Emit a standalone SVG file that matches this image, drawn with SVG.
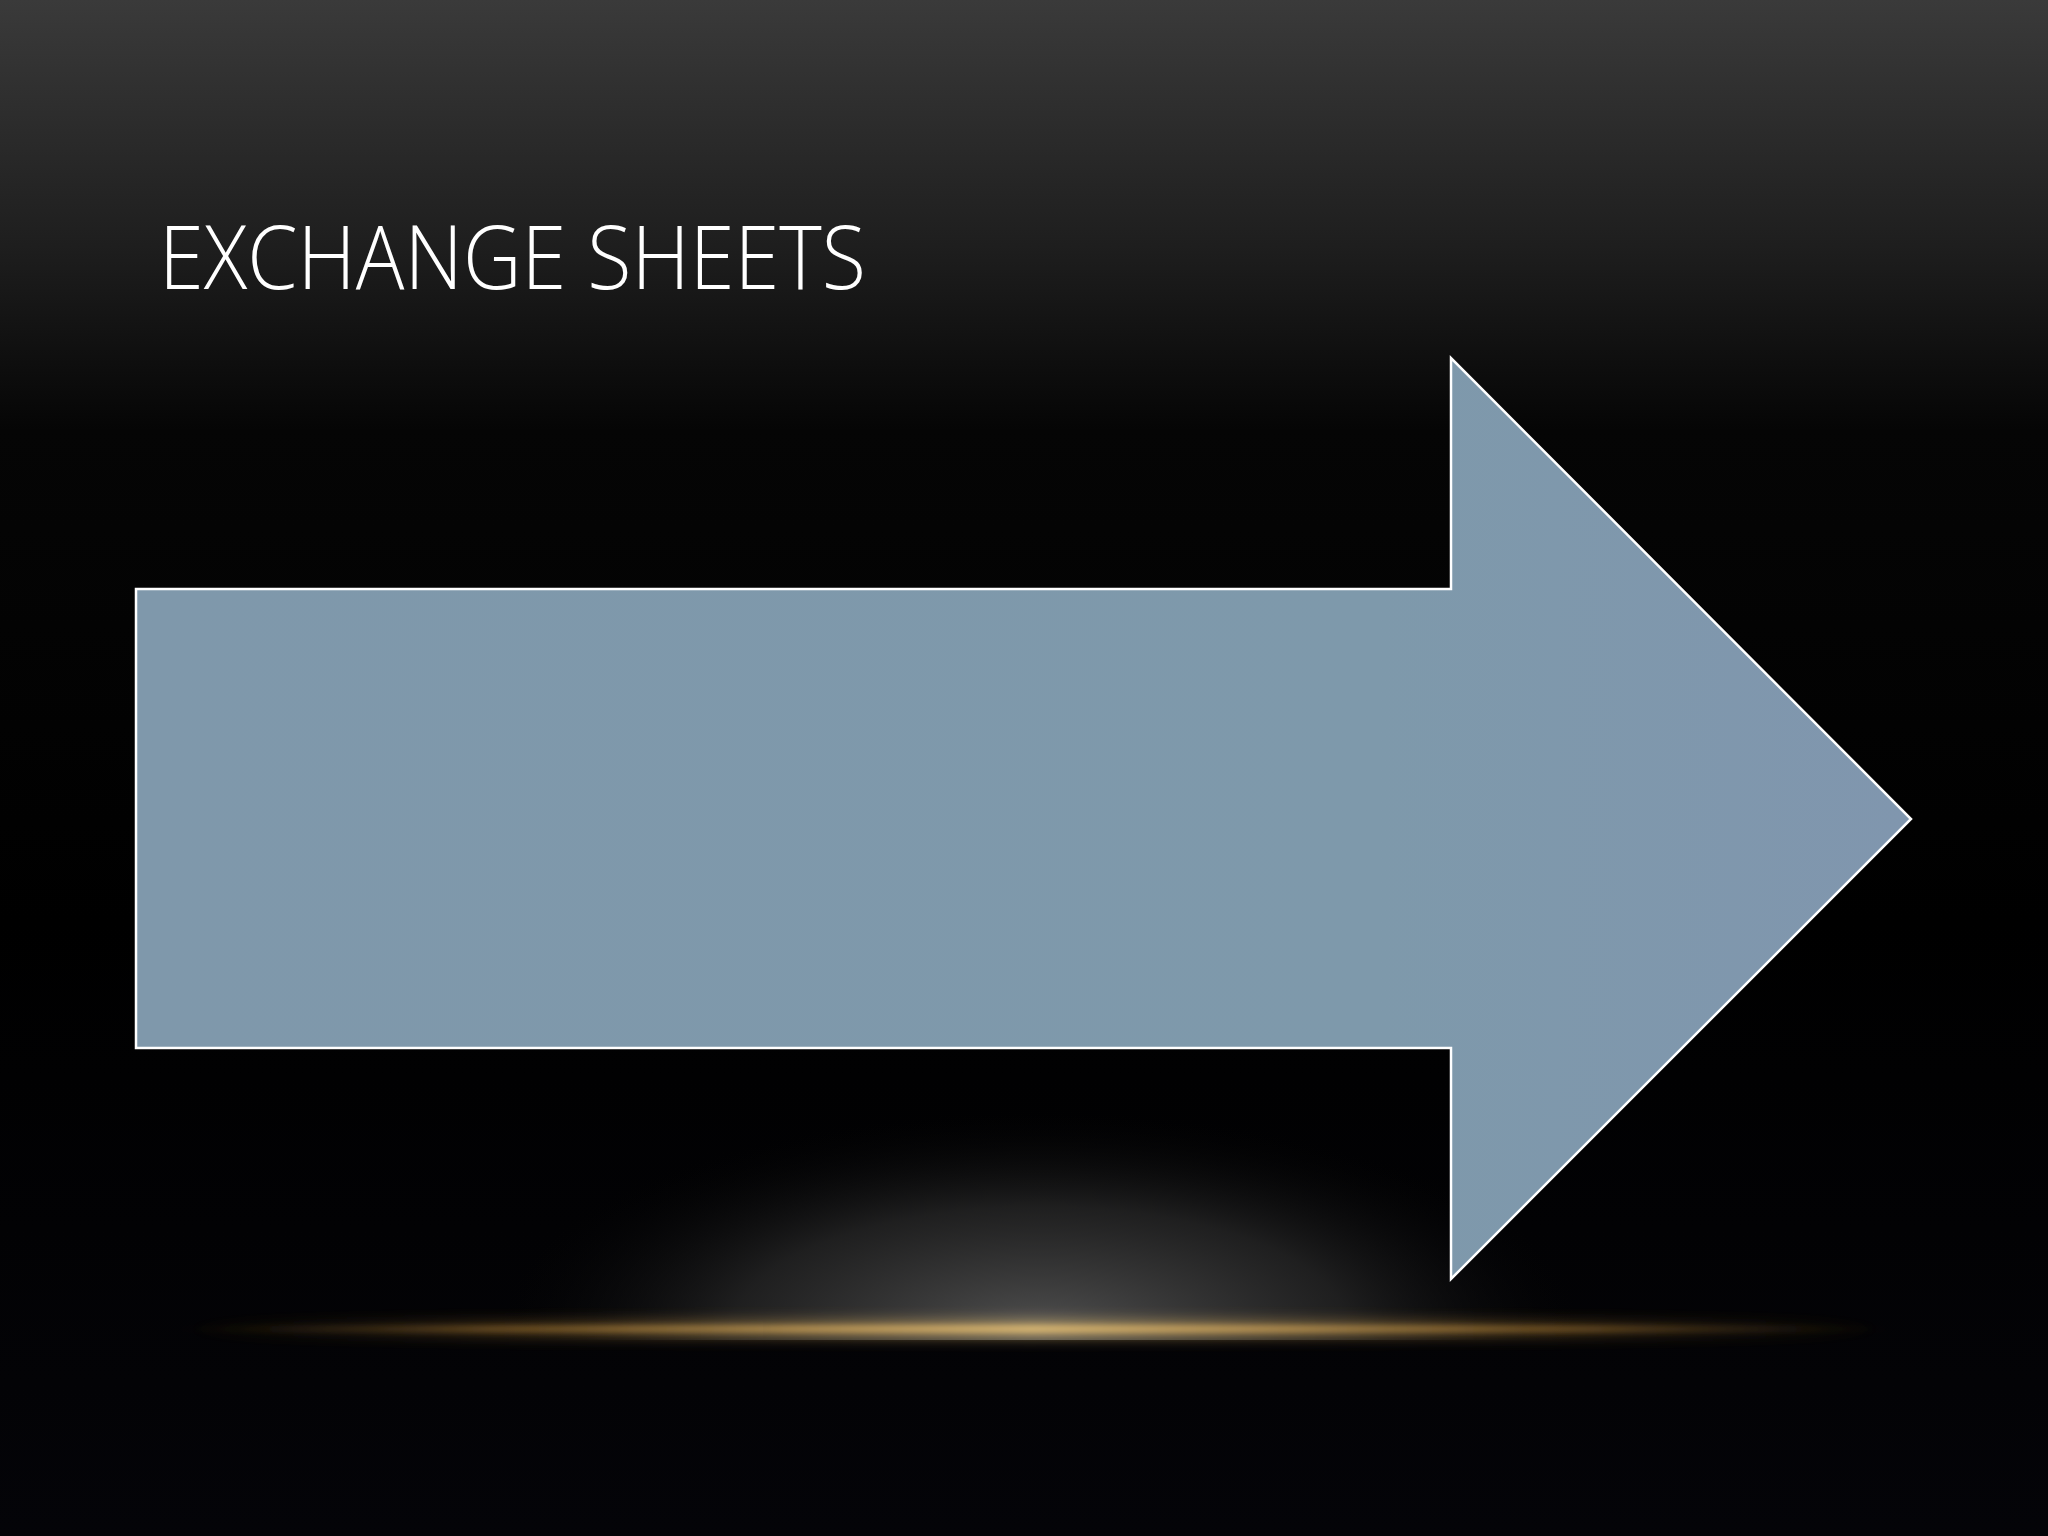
<svg xmlns="http://www.w3.org/2000/svg" width="2048" height="1536" viewBox="0 0 2048 1536">
  <defs>
    <linearGradient id="bg" x1="0" y1="0" x2="0" y2="1">
      <stop offset="0" stop-color="#3a3a3a"/>
      <stop offset="0.16" stop-color="#1e1e1e"/>
      <stop offset="0.28" stop-color="#050505"/>
      <stop offset="0.6" stop-color="#000000"/>
      <stop offset="1" stop-color="#040408"/>
    </linearGradient>
    <radialGradient id="spot" cx="1040" cy="1330" r="560" gradientUnits="userSpaceOnUse" gradientTransform="translate(1040 1330) scale(1 0.4) translate(-1040 -1330)">
      <stop offset="0" stop-color="#505050" stop-opacity="1"/>
      <stop offset="0.55" stop-color="#262626" stop-opacity="0.8"/>
      <stop offset="1" stop-color="#000000" stop-opacity="0"/>
    </radialGradient>
    <linearGradient id="line" x1="160" y1="0" x2="1900" y2="0" gradientUnits="userSpaceOnUse">
      <stop offset="0" stop-color="#c8903a" stop-opacity="0"/>
      <stop offset="0.2" stop-color="#c8903a" stop-opacity="0.6"/>
      <stop offset="0.5" stop-color="#f0c878" stop-opacity="1"/>
      <stop offset="0.8" stop-color="#c8903a" stop-opacity="0.6"/>
      <stop offset="1" stop-color="#c8903a" stop-opacity="0"/>
    </linearGradient>
    <linearGradient id="arrowFill" x1="0" y1="0" x2="1" y2="0">
      <stop offset="0" stop-color="#7f98ab"/>
      <stop offset="0.7" stop-color="#7e99ab"/>
      <stop offset="1" stop-color="#8096ae"/>
    </linearGradient>
    <filter id="blur" x="-10%" y="-300%" width="120%" height="700%">
      <feGaussianBlur stdDeviation="3"/>
    </filter>
    <filter id="blur2" x="-10%" y="-300%" width="120%" height="700%">
      <feGaussianBlur stdDeviation="8"/>
    </filter>
  </defs>
  <style>
    .title { font-family: "Open Sans", "Liberation Sans", Arial, sans-serif; font-weight: 300; font-size: 89px; fill: #ffffff; }
    .arrow { fill: url(#arrowFill); stroke: #ffffff; stroke-width: 2.5; stroke-linejoin: miter; }
  </style>
  <rect x="0" y="0" width="2048" height="1536" fill="url(#bg)"/>
  <rect x="0" y="1000" width="2048" height="340" fill="url(#spot)"/>
  <g id="glow-line">
    <ellipse cx="1040" cy="1329" rx="860" ry="6" fill="url(#line)" filter="url(#blur2)" opacity="0.8"/>
    <ellipse cx="1040" cy="1329" rx="870" ry="2.5" fill="url(#line)" filter="url(#blur)"/>
  </g>
  <g id="title">
    <text class="title" x="159" y="289" textLength="707" lengthAdjust="spacingAndGlyphs">EXCHANGE SHEETS</text>
  </g>
  <g id="arrow">
    <polygon class="arrow" points="136,589 1451,589 1451,358 1911,819 1451,1279 1451,1048 136,1048"/>
  </g>
  <g id="connectors"/>
</svg>
